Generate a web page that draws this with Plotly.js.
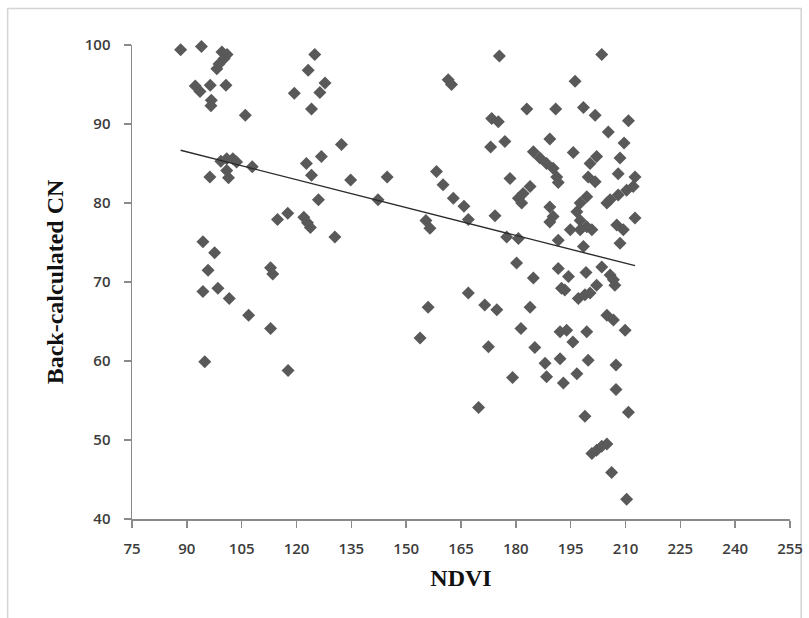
<!DOCTYPE html>
<html>
<head>
<meta charset="utf-8">
<script src="https://cdn.plot.ly/plotly-3.0.1.min.js"></script>
<style>
  html, body { margin: 0; padding: 0; background: #ffffff; }
  #chart { width: 809px; height: 618px; }
</style>
</head>
<body>
<div id="chart"></div>
<script>
// NDVI value of each observation
const ndvi = [
  88.3, 94.0, 99.6, 101.0, 100.2, 98.8, 98.2, 92.3, 93.6, 96.4,
  100.7, 96.7, 96.6, 106.0, 99.3, 100.9, 102.6, 103.6, 107.9, 96.3,
  100.9, 101.4, 94.4, 97.6, 95.8, 94.4, 98.5, 101.6, 106.9, 112.9,
  113.5, 112.9, 94.9, 117.7,
  119.4, 125.0, 123.2, 127.8, 126.4, 124.1, 132.3, 126.8, 122.7, 124.1,
  134.8, 144.8, 126.0, 142.3, 114.8, 117.6, 122.0, 123.0, 123.8, 130.5,
  161.5, 162.4, 158.3, 160.1, 162.9, 165.8, 167.0, 155.4, 156.5, 167.0,
  156.0, 153.8, 169.8,
  175.5, 203.5, 196.2, 183.0, 190.9, 198.5, 201.7, 210.8, 173.4, 175.2,
  205.3, 209.6, 189.3, 177.0, 173.1, 195.7, 184.8, 186.6, 188.4, 190.2,
  191.2, 191.6, 202.1, 200.3, 208.5, 199.8, 201.7, 208.0, 212.6, 178.4,
  183.9, 182.0, 180.7, 181.6, 189.3, 190.2, 189.3, 199.4, 197.6, 196.7,
  197.6, 199.4, 200.8, 197.6, 194.9, 198.5, 205.8, 208.0, 210.3, 212.1,
  204.9, 212.6, 207.6, 209.4, 208.5, 174.3, 177.5, 180.7, 191.6, 180.2,
  191.6, 194.4, 192.5, 193.4, 199.2, 203.5, 205.8, 206.7, 207.1, 202.1,
  184.8, 197.1, 198.9, 200.3, 171.5, 174.8, 183.9, 204.9, 206.7, 181.4,
  192.1, 193.9, 195.6, 199.4, 209.9, 172.5, 185.2, 188.0, 188.4, 192.1,
  199.8, 207.4, 196.7, 193.0, 179.1, 207.4, 198.9, 210.8, 200.8, 202.1,
  203.5, 204.9, 206.2, 210.3
];

// Back-calculated curve number for the same observations
const cn = [
  99.4, 99.8, 99.1, 98.8, 98.3, 97.6, 97.0, 94.8, 94.1, 94.9,
  94.9, 93.0, 92.3, 91.1, 85.3, 85.6, 85.6, 85.2, 84.6, 83.3,
  84.1, 83.2, 75.1, 73.7, 71.5, 68.8, 69.2, 67.9, 65.8, 71.8,
  71.0, 64.1, 59.9, 58.8,
  93.9, 98.8, 96.8, 95.2, 94.0, 91.9, 87.4, 85.9, 85.0, 83.5,
  82.9, 83.3, 80.4, 80.4, 77.9, 78.7, 78.2, 77.5, 76.9, 75.7,
  95.6, 95.0, 84.0, 82.3, 80.6, 79.6, 77.9, 77.8, 76.8, 68.6,
  66.8, 62.9, 54.1,
  98.6, 98.8, 95.4, 91.9, 91.9, 92.1, 91.1, 90.4, 90.7, 90.3,
  89.0, 87.6, 88.1, 87.8, 87.1, 86.4, 86.5, 85.7, 85.0, 84.4,
  83.3, 82.6, 85.9, 85.0, 85.7, 83.3, 82.7, 83.7, 83.3, 83.1,
  82.1, 81.2, 80.6, 80.0, 79.5, 78.3, 77.6, 80.8, 80.0, 78.9,
  77.8, 77.0, 76.6, 76.6, 76.6, 74.5, 80.4, 81.0, 81.6, 82.1,
  80.0, 78.1, 77.2, 76.6, 74.9, 78.4, 75.7, 75.5, 75.3, 72.4,
  71.7, 70.7, 69.2, 69.0, 71.2, 71.9, 70.9, 70.3, 69.6, 69.6,
  70.5, 67.9, 68.4, 68.6, 67.1, 66.5, 66.8, 65.8, 65.2, 64.1,
  63.7, 63.9, 62.4, 63.7, 63.9, 61.8, 61.7, 59.7, 58.0, 60.3,
  60.1, 59.5, 58.4, 57.2, 57.9, 56.4, 53.0, 53.5, 48.3, 48.7,
  49.2, 49.5, 45.9, 42.5
];

// Axis ticks
const xTicks = [75, 90, 105, 120, 135, 150, 165, 180, 195, 210, 225, 240, 255];
const yTicks = [40, 50, 60, 70, 80, 90, 100];

// Least-squares linear trend of CN on NDVI, drawn over the observed NDVI span
function linearFit(xs, ys) {
  const n = xs.length;
  let sx = 0, sy = 0, sxx = 0, sxy = 0;
  for (let i = 0; i < n; i++) {
    sx += xs[i]; sy += ys[i];
    sxx += xs[i] * xs[i]; sxy += xs[i] * ys[i];
  }
  const slope = (n * sxy - sx * sy) / (n * sxx - sx * sx);
  const intercept = (sy - slope * sx) / n;
  return { slope, intercept };
}
const fit = linearFit(ndvi, cn);
const xMin = Math.min(...ndvi);
const xMax = Math.max(...ndvi);
const trendX = [xMin, xMax];
const trendY = trendX.map(v => fit.intercept + fit.slope * v);

const points = {
  type: 'scatter',
  mode: 'markers',
  x: ndvi,
  y: cn,
  cliponaxis: false,
  marker: { symbol: 'diamond', size: 10, color: '#595959', line: { width: 0 } },
  hoverinfo: 'x+y'
};

const trend = {
  type: 'scatter',
  mode: 'lines',
  x: trendX,
  y: trendY,
  line: { color: '#2b2b2b', width: 1.4 },
  hoverinfo: 'skip'
};

const tickFont = { family: 'Open Sans, Arial, sans-serif', size: 15, color: '#3c3c3c', weight: 600 };
const titleFont = { family: 'Liberation Serif, Times New Roman, serif', size: 24, color: '#111111', weight: 'bold' };

const layout = {
  width: 809,
  height: 618,
  margin: { l: 132, r: 19, t: 45, b: 99 },
  paper_bgcolor: '#ffffff',
  plot_bgcolor: '#ffffff',
  showlegend: false,
  xaxis: {
    range: [75, 255],
    tickvals: xTicks,
    ticktext: xTicks.map(String),
    showgrid: false,
    zeroline: false,
    showline: true,
    linecolor: '#8a8a8a',
    linewidth: 1.5,
    ticks: 'outside',
    ticklen: 7,
    tickwidth: 1.5,
    tickcolor: '#8a8a8a',
    ticklabelstandoff: 8,
    tickfont: tickFont,
    title: { text: '<b>NDVI</b>', font: titleFont, standoff: 12 }
  },
  yaxis: {
    range: [40, 100],
    tickvals: yTicks,
    ticktext: yTicks.map(String),
    showgrid: false,
    zeroline: false,
    showline: true,
    linecolor: '#8a8a8a',
    linewidth: 1.5,
    ticks: 'outside',
    ticklen: 7,
    tickwidth: 1.5,
    tickcolor: '#8a8a8a',
    ticklabelstandoff: 10,
    tickfont: tickFont,
    title: { text: '<b>Back-calculated CN</b>', font: titleFont, standoff: 14 }
  },
  shapes: [{
    type: 'rect',
    xref: 'paper', yref: 'paper',
    x0: -0.189, x1: 1.017, y0: -0.24, y1: 1.077,
    line: { color: '#d4d4d4', width: 1.5 },
    fillcolor: 'rgba(0,0,0,0)',
    layer: 'below'
  }]
};

Plotly.newPlot('chart', [points, trend], layout, { displayModeBar: false, staticPlot: true });
</script>
</body>
</html>
